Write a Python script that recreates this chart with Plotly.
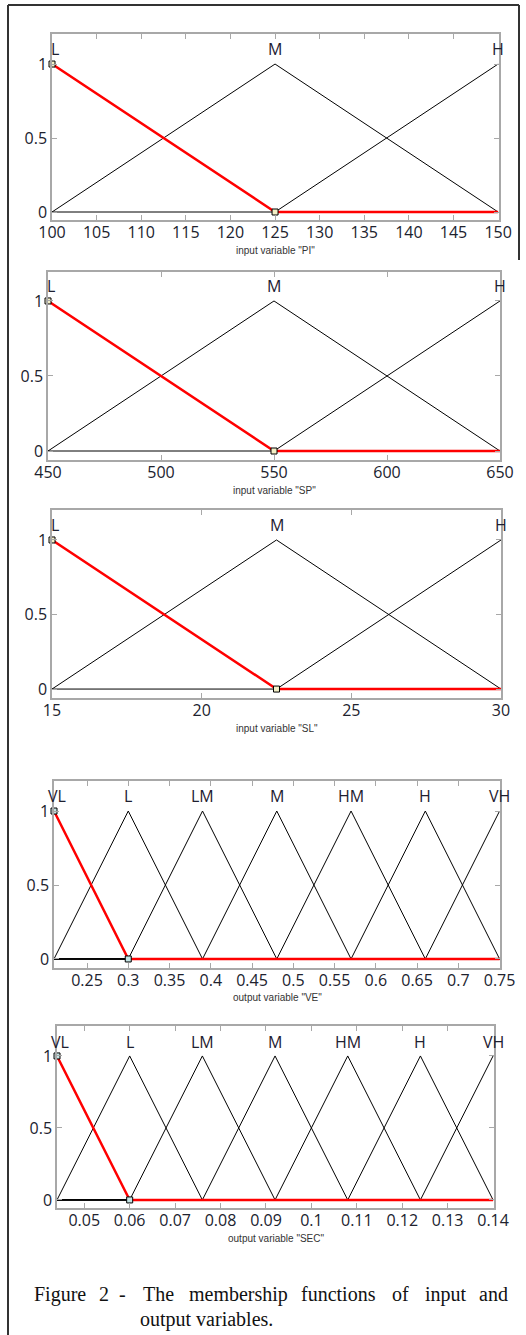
import plotly.graph_objects as go

# ---------------- data ----------------
PI_peaks = [100, 125, 150]
SP_peaks = [450, 550, 650]
SL_peaks = [15, 22.5, 30]
VE_peaks = [0.21, 0.30, 0.39, 0.48, 0.57, 0.66, 0.75]
SEC_peaks = [0.044, 0.060, 0.076, 0.092, 0.108, 0.124, 0.140]

names3 = ["L", "M", "H"]
names7 = ["VL", "L", "LM", "M", "HM", "H", "VH"]

PI_ticks = [100, 105, 110, 115, 120, 125, 130, 135, 140, 145, 150]
SP_ticks = [450, 500, 550, 600, 650]
SL_ticks = [15, 20, 25, 30]
VE_ticks = [0.25, 0.3, 0.35, 0.4, 0.45, 0.5, 0.55, 0.6, 0.65, 0.7, 0.75]
VE_ticktext = ["0.25", "0.3", "0.35", "0.4", "0.45", "0.5", "0.55", "0.6", "0.65", "0.7", "0.75"]
SEC_ticks = [0.05, 0.06, 0.07, 0.08, 0.09, 0.10, 0.11, 0.12, 0.13, 0.14]
SEC_ticktext = ["0.05", "0.06", "0.07", "0.08", "0.09", "0.1", "0.11", "0.12", "0.13", "0.14"]

y_ticks = [0, 0.5, 1]
y_ticktext = ["0", "0.5", "1"]

titles = ['input variable "PI"', 'input variable "SP"', 'input variable "SL"',
          'output variable "VE"', 'output variable "SEC"']

caption_line1 = ["Figure", "2", "-", "The", "membership", "functions", "of", "input", "and"]
caption_line2 = "output variables."

# ---------------- layout geometry (pixels) ----------------
W, H = 526, 1335

def px(x):
    return x / W

def py(y):
    return 1 - y / H

panels = [
    dict(peaks=PI_peaks, names=names3, ticks=PI_ticks, ticktext=[str(t) for t in PI_ticks],
         frame=(52, 499, 34, 220), yr=(-0.054, 1.203), xr=(100, 150.1), ty=250, fill="#f3efc6"),
    dict(peaks=SP_peaks, names=names3, ticks=SP_ticks, ticktext=[str(t) for t in SP_ticks],
         frame=(48, 500, 272, 460), yr=(-0.06, 1.193), xr=(450, 650), ty=491, fill="#f3efc6"),
    dict(peaks=SL_peaks, names=names3, ticks=SL_ticks, ticktext=[str(t) for t in SL_ticks],
         frame=(52, 501, 510, 698), yr=(-0.06, 1.201), xr=(15, 30), ty=728, fill="#f3efc6"),
    dict(peaks=VE_peaks, names=names7, ticks=VE_ticks, ticktext=VE_ticktext,
         frame=(54, 500, 781, 968), yr=(-0.061, 1.203), xr=(0.21, 0.7505), ty=997, fill="#c4e4e4"),
    dict(peaks=SEC_peaks, names=names7, ticks=SEC_ticks, ticktext=SEC_ticktext,
         frame=(57, 494, 1026, 1208), yr=(-0.056, 1.208), xr=(0.044, 0.1402), ty=1238, fill="#c4e4e4"),
]

fig = go.Figure()
annotations = []
shapes = []

tick_font = dict(family="Open Sans", size=16, color="#20222e")
frame_col = "#a8a8a8"

for i, p in enumerate(panels):
    n = i + 1
    xa = "x" if n == 1 else f"x{n}"
    ya = "y" if n == 1 else f"y{n}"
    peaks = p["peaks"]
    k = len(peaks)
    for j in range(1, k):
        yv = [1 if m == j else 0 for m in range(k)]
        fig.add_trace(go.Scatter(x=peaks, y=yv, mode="lines", xaxis=xa, yaxis=ya,
                                 line=dict(color="black", width=1), showlegend=False,
                                 hoverinfo="skip", cliponaxis=False))
    yv = [1 if m == 0 else 0 for m in range(k)]
    fig.add_trace(go.Scatter(x=peaks, y=yv, mode="lines", xaxis=xa, yaxis=ya,
                             line=dict(color="#ff0000", width=2.5), showlegend=False,
                             hoverinfo="skip", cliponaxis=False))
    fig.add_trace(go.Scatter(x=[peaks[0], peaks[1]], y=[1, 0], mode="markers", xaxis=xa, yaxis=ya,
                             marker=dict(symbol="square", size=6, color=p["fill"],
                                         line=dict(color="black", width=1)),
                             showlegend=False, hoverinfo="skip", cliponaxis=False))
    for j, nm in enumerate(p["names"]):
        annotations.append(dict(x=peaks[j], y=1.1, xref=xa, yref=ya, text=nm, showarrow=False,
                                xanchor="center", yanchor="middle",
                                xshift=3 if j == 0 else 0,
                                font=dict(family="Open Sans", size=16, color="#1e2030")))
    l, r, t, b = p["frame"]
    xkey = "xaxis" if n == 1 else f"xaxis{n}"
    ykey = "yaxis" if n == 1 else f"yaxis{n}"
    fig.update_layout(**{
        xkey: dict(domain=[px(l), px(r)], range=list(p["xr"]), anchor=ya, automargin=False,
                   tickmode="array", tickvals=p["ticks"], ticktext=p["ticktext"],
                   ticks="inside", ticklen=5, tickcolor=frame_col, tickwidth=1,
                   ticklabelstandoff=-3,
                   showline=True, linecolor=frame_col, linewidth=1.5, mirror="ticks",
                   showgrid=False, zeroline=False, tickfont=tick_font, fixedrange=True),
        ykey: dict(domain=[py(b), py(t)], range=list(p["yr"]), anchor=xa, automargin=False,
                   tickmode="array", tickvals=y_ticks, ticktext=y_ticktext,
                   ticks="inside", ticklen=5, tickcolor=frame_col, tickwidth=1,
                   showline=True, linecolor=frame_col, linewidth=1.5, mirror="ticks",
                   showgrid=False, zeroline=False, tickfont=tick_font, fixedrange=True),
    })
    annotations.append(dict(x=px((l + r) / 2), y=py(p["ty"]), xref="paper", yref="paper",
                            text=titles[i], showarrow=False, xanchor="center", yanchor="middle",
                            font=dict(family="Liberation Sans", size=10, color="#333333")))

word_x = [32, 97, 117, 141, 187, 299, 390, 423, 477]
for wx, wd in zip(word_x, caption_line1):
    annotations.append(dict(x=px(wx), y=py(1294), xref="paper", yref="paper", text=wd,
                            showarrow=False, xanchor="left", yanchor="middle",
                            font=dict(family="Liberation Serif", size=20, color="#111111")))
annotations.append(dict(x=px(138), y=py(1319), xref="paper", yref="paper", text=caption_line2,
                        showarrow=False, xanchor="left", yanchor="middle",
                        font=dict(family="Liberation Serif", size=20, color="#111111")))

border = dict(color="#333333", width=2)
shapes.append(dict(type="line", xref="paper", yref="paper", x0=px(8), x1=px(8), y0=py(5), y1=py(1335), line=border))
shapes.append(dict(type="line", xref="paper", yref="paper", x0=px(8), x1=px(519), y0=py(5), y1=py(5), line=border))
shapes.append(dict(type="line", xref="paper", yref="paper", x0=px(519), x1=px(519), y0=py(5), y1=py(260), line=border))

fig.update_layout(width=W, height=H, margin=dict(l=0, r=0, t=0, b=0, pad=0),
                  paper_bgcolor="white", plot_bgcolor="white", autosize=False,
                  annotations=annotations, shapes=shapes, showlegend=False)

fig.write_html("out.html", config={"displayModeBar": False},
               post_script="document.body.style.margin='0';document.body.style.overflow='hidden';")
